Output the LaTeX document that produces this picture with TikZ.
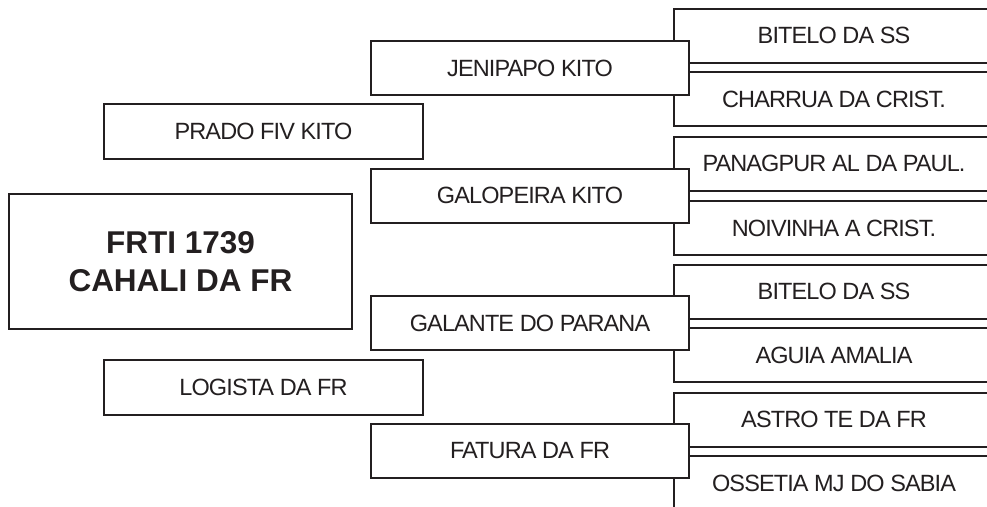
\documentclass[tikz,border=0pt]{standalone}
\usepackage{fontspec}
\setmainfont{Liberation Sans}
\newfontfamily\tightfont[LetterSpace=-3.8]{Liberation Sans}
\definecolor{ink}{HTML}{231F20}
\begin{document}
\begin{tikzpicture}[x=1pt,y=-1pt,
  box/.style={draw=ink, line width=2pt, fill=white, rectangle, inner sep=0pt,
    text=ink, font=\tightfont\fontsize{23.5}{26}\selectfont},
  midbox/.style={box, minimum width=318pt, minimum height=54pt},
  sidebox/.style={box, minimum width=319pt, minimum height=55pt},
  farbox/.style={box, minimum width=320pt, minimum height=54pt},
  mainbox/.style={box, minimum width=343pt, minimum height=135pt, align=center,
    font=\bfseries\fontsize{31.5}{37.5}\selectfont}]
\useasboundingbox (0,0) rectangle (987,506);
\clip (0,0) rectangle (987,506);
% outermost generation (open to the right edge)
\node[farbox] (r1) at (834,35.5) {BITELO DA SS};
\node[farbox] (r2) at (834,99) {CHARRUA DA CRIST.};
\node[farbox] (r3) at (834,163.5) {PANAGPUR AL DA PAUL.};
\node[farbox] (r4) at (834,228) {NOIVINHA A CRIST.};
\node[farbox] (r5) at (834,291.5) {BITELO DA SS};
\node[farbox] (r6) at (834,355) {AGUIA AMALIA};
\node[farbox] (r7) at (834,419.5) {ASTRO TE DA FR};
\node[farbox] (r8) at (834,483) {OSSETIA MJ DO SABIA};
% middle generation
\node[midbox] (m1) at (530,68) {JENIPAPO KITO};
\node[midbox] (m2) at (530,195.5) {GALOPEIRA KITO};
\node[midbox] (m3) at (530,323) {GALANTE DO PARANA};
\node[midbox] (m4) at (530,451) {FATURA DA FR};
% parents
\node[sidebox] (sire) at (263.5,131.5) {PRADO FIV KITO};
\node[sidebox] (dam) at (263.5,387) {LOGISTA DA FR};
% subject
\node[mainbox] (main) at (180.5,261.5) {FRTI 1739\\CAHALI DA FR};
\end{tikzpicture}
\end{document}
